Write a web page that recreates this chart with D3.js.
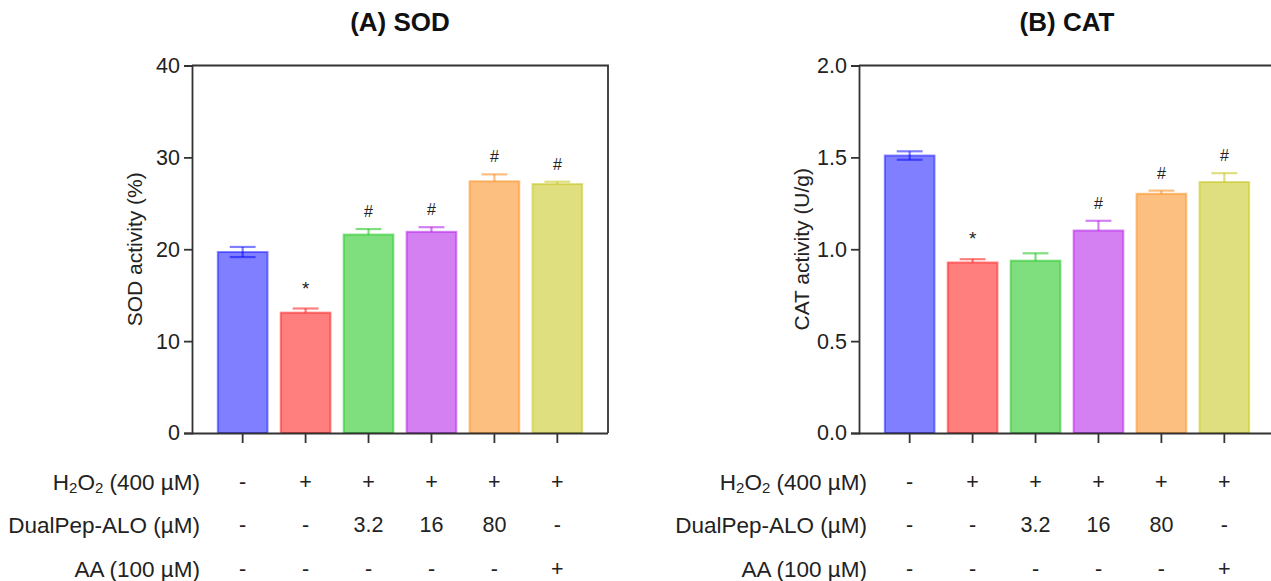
<!DOCTYPE html>
<html>
<head>
<meta charset="utf-8">
<script src="https://cdn.jsdelivr.net/npm/d3@7"></script>
<style>
  html, body { margin: 0; padding: 0; background: #fff; }
  svg { display: block; font-family: "Liberation Sans", Arial, sans-serif; }
</style>
</head>
<body>
<svg id="chart" width="1271" height="581"></svg>
<script>
// ---- data ----
const groups = ["G1", "G2", "G3", "G4", "G5", "G6"];
const barColors = ["#0000ff", "#ff0000", "#00bf00", "#aa00e6", "#fa8000", "#bfbf00"];

const sodMean = [19.7, 13.1, 21.6, 21.9, 27.4, 27.1];
const sodErrUp = [0.55, 0.45, 0.6, 0.5, 0.75, 0.25];
const sodErrLow = [0.55, 0, 0, 0, 0, 0];
const sodMarks = ["", "*", "#", "#", "#", "#"];
const sodTicks = [0, 10, 20, 30, 40];

const catMean = [1.51, 0.928, 0.938, 1.102, 1.302, 1.366];
const catErrUp = [0.023, 0.018, 0.04, 0.053, 0.017, 0.048];
const catErrLow = [0.023, 0, 0, 0, 0, 0];
const catMarks = ["", "*", "", "#", "#", "#"];
const catTicks = [0.0, 0.5, 1.0, 1.5, 2.0];

const rowLabels = ["H2O2 (400 µM)", "DualPep-ALO (µM)", "AA (100 µM)"];
const rowH2O2 = ["-", "+", "+", "+", "+", "+"];
const rowDualPep = ["-", "-", "3.2", "16", "80", "-"];
const rowAA = ["-", "-", "-", "-", "-", "+"];

const panels = [
  { title: "(A) SOD", ylabel: "SOD activity (%)", mean: sodMean, up: sodErrUp, low: sodErrLow,
    marks: sodMarks, ticks: sodTicks, max: 40, fmt: d3.format("d"), x0: 192 },
  { title: "(B) CAT", ylabel: "CAT activity (U/g)", mean: catMean, up: catErrUp, low: catErrLow,
    marks: catMarks, ticks: catTicks, max: 2.0, fmt: d3.format(".1f"), x0: 859 }
];

const svg = d3.select("#chart");
const plotW = 416, yTop = 65.5, yBot = 433;
const ink = "#222";
const axisCol = "#333";

panels.forEach(p => {
  const x = d3.scaleBand().domain(groups).range([p.x0, p.x0 + plotW]).paddingInner(0.21).paddingOuter(0.41);
  const y = d3.scaleLinear().domain([0, p.max]).range([yBot, yTop]);
  const g = svg.append("g");

  // title
  g.append("text").attr("x", p.x0 + plotW / 2).attr("y", 31)
    .attr("text-anchor", "middle").attr("font-size", 26).attr("font-weight", "bold")
    .attr("fill", "#111").text(p.title);

  // y label
  g.append("text")
    .attr("transform", `translate(${p.x0 - 58},${(yTop + yBot) / 2}) rotate(-90)`)
    .attr("text-anchor", "middle").attr("dominant-baseline", "central")
    .attr("font-size", 21).attr("fill", ink).text(p.ylabel);

  // bars
  const bars = g.append("g");
  groups.forEach((k, i) => {
    const c = barColors[i];
    const bx = x(k), bw = x.bandwidth();
    bars.append("rect")
      .attr("x", bx).attr("y", y(p.mean[i]))
      .attr("width", bw).attr("height", y(0) - y(p.mean[i]))
      .attr("fill", c).attr("fill-opacity", 0.5)
      .attr("stroke", c).attr("stroke-opacity", 0.45).attr("stroke-width", 2);
    // error bar
    const cx = bx + bw / 2, cap = bw * 0.26;
    const top = y(p.mean[i] + p.up[i]);
    const bot = y(p.mean[i] - p.low[i]);
    const eg = bars.append("g").attr("stroke", c).attr("stroke-opacity", 0.5).attr("stroke-width", 2.2);
    eg.append("line").attr("x1", cx).attr("x2", cx).attr("y1", top).attr("y2", bot);
    eg.append("line").attr("x1", cx - cap).attr("x2", cx + cap).attr("y1", top).attr("y2", top);
    if (p.low[i] > 0) {
      eg.append("line").attr("x1", cx - cap).attr("x2", cx + cap).attr("y1", bot).attr("y2", bot);
    }
    if (p.marks[i]) {
      const star = p.marks[i] === "*";
      g.append("text").attr("x", cx).attr("y", top - (star ? 14 : 12))
        .attr("text-anchor", "middle").attr("font-size", star ? 19 : 16).attr("fill", ink)
        .text(p.marks[i]);
    }
  });

  // frame: top and right lines
  g.append("path")
    .attr("d", `M${p.x0},${yTop}H${p.x0 + plotW}V${yBot}`)
    .attr("fill", "none").attr("stroke", axisCol).attr("stroke-width", 1.8);

  // y axis
  const ya = g.append("g").attr("transform", `translate(${p.x0},0)`)
    .call(d3.axisLeft(y).tickValues(p.ticks).tickFormat(p.fmt).tickSize(8).tickPadding(4));
  ya.select(".domain").attr("stroke", axisCol).attr("stroke-width", 1.8);
  ya.selectAll(".tick line").attr("stroke", axisCol).attr("stroke-width", 1.8);
  ya.selectAll(".tick text").attr("font-size", 21.5).attr("fill", ink).attr("font-family", "Liberation Sans, Arial, sans-serif");

  // x axis
  const xa = g.append("g").attr("transform", `translate(0,${yBot})`)
    .call(d3.axisBottom(x).tickSize(10).tickFormat(""));
  xa.select(".domain").attr("d", `M${p.x0},0.5H${p.x0 + plotW}`).attr("stroke", axisCol).attr("stroke-width", 1.8);
  xa.selectAll(".tick line").attr("stroke", axisCol).attr("stroke-width", 1.8);

  // treatment table
  const rows = [rowH2O2, rowDualPep, rowAA];
  const rowY = [482, 525, 569];
  rows.forEach((r, ri) => {
    const lab = g.append("text").attr("x", p.x0 + 8).attr("y", rowY[ri])
      .attr("text-anchor", "end").attr("dominant-baseline", "central")
      .attr("font-size", 22.5).attr("fill", ink);
    if (ri === 0) {
      lab.append("tspan").text("H");
      lab.append("tspan").attr("font-size", 15).attr("dy", 5).text("2");
      lab.append("tspan").attr("dy", -5).text("O");
      lab.append("tspan").attr("font-size", 15).attr("dy", 5).text("2");
      lab.append("tspan").attr("dy", -5).text(" (400 µM)");
    } else {
      lab.text(rowLabels[ri]);
    }
    groups.forEach((k, i) => {
      g.append("text").attr("x", x(k) + x.bandwidth() / 2).attr("y", rowY[ri])
        .attr("text-anchor", "middle").attr("dominant-baseline", "central")
        .attr("font-size", 21.5).attr("fill", ink).text(r[i]);
    });
  });
});
</script>
</body>
</html>
